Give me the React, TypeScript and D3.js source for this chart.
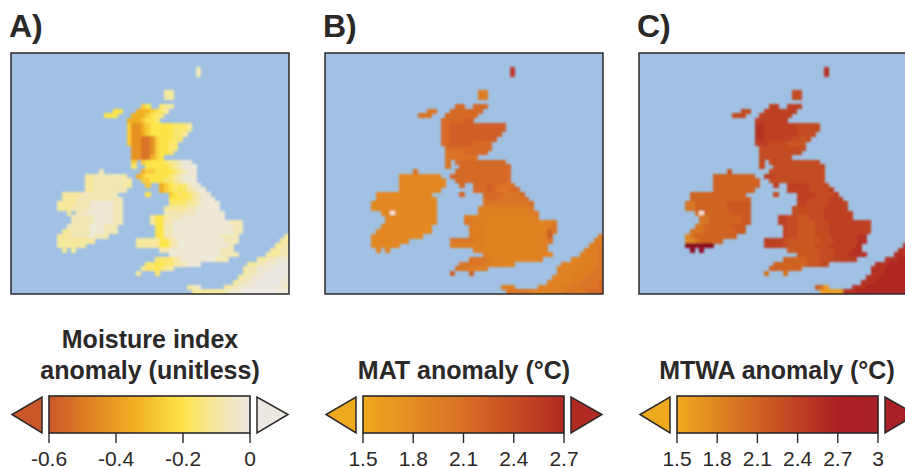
import React from "react";
import * as d3 from "d3";

// Land cells on a 60 x 52 grid: [row, start, end, start, end, ...]
const landRows: number[][] = [
  [3,40,40],[4,40,40],[8,33,34],[9,33,34],
  [11,28,29,32,34],[12,22,23,27,33],[13,20,22,26,32],[14,25,31],
  [15,25,38],[16,25,38],[17,25,37],[18,25,36],[19,25,35],[20,26,35],[21,26,34],[22,26,32],
  [23,26,26,28,38],[24,26,26,29,39],[25,19,19,28,39],[26,16,24,27,39],[27,16,25,28,39],
  [28,16,25,29,29,32,40],[29,16,24,32,41],[30,11,22,29,29,34,42],[31,11,23,34,43],
  [32,10,23,34,44],[33,10,23,33,44],[34,12,23,33,45],[35,13,23,30,45],[36,13,23,30,49],
  [37,12,22,31,49],[38,11,22,31,49],[39,10,20,31,48,59,59],[40,10,17,27,48,58,59],
  [41,10,15,27,47,57,59],[42,11,11,13,13,32,47,56,59],[43,34,48,55,59],[44,31,46,53,59],
  [45,29,40,51,59],[46,28,34,50,59],[47,27,27,31,31,50,59],[48,49,59],[49,48,59],
  [50,38,40,46,59],[51,39,43,44,59],
];

// Per row, one level string per span; the last digit of a string carries on to the span's end. w = lake
const moistureCells: string[] = [
  "2","2","3","3",
  "65 43","55 7776543","555 7776544","7776554",
  "68876555554443","68876555554443","6887655555443","688998655544","68899865544","8899865544","889986554","8899765",
  "6 65555433211","4 55555432111","2 766555543211","332222223 7655555432111","3322222223 665554432111",
  "3322222233 6 765444211","332222222 7654543211","333322222222 5 654543211","3332222222222 5554432111",
  "33332221111122 44443321111","33322221111122 333332211111","3w2211111122 2222222111111","22222111122 3553222111111111","22222111122 35522111111111111222",
  "22222111222 5522111111111111122","332222111222 5522111111111111122","33322221222 5522111111111122 3","33333333 3333355321111111111222 33",
  "333333 333335532111111111112 332","3 3 2211111111111222 3322","111111111112222 33322","4444321111111222 3322111",
  "445544322111 332211100","3445433 3221111000","3 4 3221100000","32211000001","322110000011",
  "321 33211100000112","33333 3321110000000111",
];
const matCells: string[] = [
  "9","9","4","4",
  "6 6","5 6","5 6","6666677",
  "66777777777777","667777777777778","6677777777777","667777777777","66777776666","6666666666","555566666","5555555",
  "5 66666666666","5 66666666666","5 666666666666","2 6666666666666","2 666666666666",
  "2 6 666766555","2 6667655566","2 6 666655556","2 5665555556",
  "2 55555555556","2 444444444445","22w2 4444444444445","2 4444433333333334","2 55444333333333333334",
  "2 4443333333333333345","2 4443333333333333375","2 444333333333333337 4","2 5555544333333333333345 44",
  "2 444444433333333333334 445","3 3 3333333333333334 4445","3333333333333335 33445","5555433333333334 3334445",
  "555554444333 333344445","5554444 3333444455","7 7 3333444555","33334445555","333344455556",
  "434 33334445555556","55555 3333444455555666",
];
const mtwaCells: string[] = [
  "7","7","5","5",
  "6 6","5 6","5 6","66666",
  "77666666655555","77666666655555","7766666665555","776666665545","66655554444","5","5","5",
  "5 55555555555","5 55555555555","4 555555555555","3 6655555555555","3 555555555555",
  "3 6 666665555","3 6666655556","3 5 666655556","3 6665555666",
  "2233333334 66555556666","2233333334 555555566666","2w333333444 5555555666666","22333333344 6655444555666666","22333333344 66554444555666666666",
  "2233333344 6554444555666666666","22233333334 6554444555666666666","1233333333 655444455566666677 7","11233333 666654444444555666667 77",
  "999999 666654444445556666667 777","9 9 4444444555666677 7777","444445556667777 77788","3333344455566666 7778888",
  "333333344455 777888888","3333333 7778888888","2 2 7778888888","77788888888","777888888888",
  "320 77788888888888","00000 77788888888888888",
];

const moistureValues = [0, -0.02, -0.07, -0.11, -0.16, -0.2, -0.27, -0.35, -0.43, -0.52];
const matValues = [1.7, 1.8, 1.85, 1.9, 1.95, 2.05, 2.15, 2.25, 2.35, 2.55];
const mtwaValues = [1.6, 1.8, 1.95, 2.1, 2.2, 2.3, 2.4, 2.55, 2.65, 3.2];

const moistureStops = [-0.6, -0.5, -0.35, -0.2, -0.1, 0];
const moistureColors = ["#c9582a", "#dd7a26", "#f0ae22", "#fde44a", "#f5e8a5", "#ece8e2"];
const matStops = [1.5, 2.1, 2.7];
const matColors = ["#efa91f", "#d86f26", "#b22a24"];
const mtwaStops = [1.5, 2.1, 2.7, 3, 3.2];
const mtwaColors = ["#efa91f", "#cf6324", "#ac1f24", "#a81f26", "#8e0a20"];

const moistureTicks = [-0.6, -0.4, -0.2, 0];
const moistureLabels = ["-0.6", "-0.4", "-0.2", "0"];
const matTicks = [1.5, 1.8, 2.1, 2.4, 2.7];
const matLabels = ["1.5", "1.8", "2.1", "2.4", "2.7"];
const mtwaTicks = [1.5, 1.8, 2.1, 2.4, 2.7, 3];
const mtwaLabels = ["1.5", "1.8", "2.1", "2.4", "2.7", "3"];

const SEA = "#a0c1e4";
const INK = "#2b2828";
const FONT = "'Liberation Sans', Arial, sans-serif";
const MAP_W = 278;
const MAP_H = 241;
const COLS = 60;
const ROWS = 52;

type PanelDef = {
  id: string; letter: string; x: number; cells: string[]; values: number[];
  stops: number[]; colors: string[]; domain: [number, number]; ticks: number[]; labels: string[];
  title: string[]; titleX: number; lake: string; lowColor: string; highColor: string;
};

const panels: PanelDef[] = [
  { id: "a", letter: "A)", x: 11, cells: moistureCells, values: moistureValues, stops: moistureStops, colors: moistureColors,
    domain: [-0.6, 0], ticks: moistureTicks, labels: moistureLabels, title: ["Moisture index", "anomaly (unitless)"], titleX: 150,
    lake: "#a8bfd0", lowColor: "#c9582a", highColor: "#ece8e2" },
  { id: "b", letter: "B)", x: 325, cells: matCells, values: matValues, stops: matStops, colors: matColors,
    domain: [1.5, 2.7], ticks: matTicks, labels: matLabels, title: ["MAT anomaly (°C)"], titleX: 464,
    lake: "#f4e8d8", lowColor: "#efa91f", highColor: "#b22a24" },
  { id: "c", letter: "C)", x: 639, cells: mtwaCells, values: mtwaValues, stops: mtwaStops, colors: mtwaColors,
    domain: [1.5, 3], ticks: mtwaTicks, labels: mtwaLabels, title: ["MTWA anomaly (°C)"], titleX: 777,
    lake: "#f4e8d8", lowColor: "#efa91f", highColor: "#a81f26" },
];

function Panel({ p }: { p: PanelDef }) {
  const color = d3.scaleLinear<string>().domain(p.stops).range(p.colors).clamp(true);
  const xCol = d3.scaleBand<number>().domain(d3.range(COLS)).range([p.x, p.x + MAP_W]);
  const yRow = d3.scaleBand<number>().domain(d3.range(ROWS)).range([53, 53 + MAP_H]);
  const cells: { r: number; c: number; fill: string }[] = [];
  landRows.forEach((spec, i) => {
    const r = spec[0];
    const parts = p.cells[i].split(" ");
    parts.forEach((lv, k) => {
      const s = spec[1 + 2 * k];
      const e = spec[2 + 2 * k];
      for (let c = s; c <= e; c++) {
        const ch = lv[Math.min(c - s, lv.length - 1)];
        cells.push({ r, c, fill: ch === "w" ? p.lake : color(p.values[+ch]) });
      }
    });
  });
  const barLeft = p.x + 38;
  const barRight = barLeft + 201;
  const barTop = 396;
  const barBottom = 433;
  const barMid = (barTop + barBottom) / 2;
  const xBar = d3.scaleLinear().domain(p.domain).range([barLeft, barRight]);
  const gradId = "grad-" + p.id;
  const gradStops = d3.range(0, 1.0001, 0.05);
  return (
    <g>
      <defs>
        <clipPath id={"clip-" + p.id}><rect x={p.x} y={53} width={MAP_W} height={MAP_H} /></clipPath>
        <linearGradient id={gradId} x1="0" x2="1" y1="0" y2="0">
          {gradStops.map((t) => (
            <stop key={t} offset={t} stopColor={color(p.domain[0] + t * (p.domain[1] - p.domain[0]))} />
          ))}
        </linearGradient>
      </defs>
      <text x={p.x - 2} y={37} fontFamily={FONT} fontWeight="bold" fontSize={32} fill={INK}>{p.letter}</text>
      <rect x={p.x} y={53} width={MAP_W} height={MAP_H} fill={SEA} />
      <g clipPath={`url(#clip-${p.id})`}>
        <g filter="url(#soft)">
          {cells.map((d) => (
            <rect key={d.r + "-" + d.c} x={xCol(d.c)} y={yRow(d.r)} width={xCol.bandwidth() + 0.5} height={yRow.bandwidth() + 0.5} fill={d.fill} shapeRendering="crispEdges" />
          ))}
        </g>
      </g>
      <rect x={p.x} y={53} width={MAP_W} height={MAP_H} fill="none" stroke={INK} strokeWidth={1.5} />
      {p.title.map((t, i) => (
        <text key={t} x={p.titleX} y={379 - (p.title.length - 1 - i) * 31} textAnchor="middle" fontFamily={FONT} fontWeight="bold" fontSize={25} fill={INK}>{t}</text>
      ))}
      <rect x={barLeft} y={barTop} width={barRight - barLeft} height={barBottom - barTop} fill={`url(#${gradId})`} stroke={INK} strokeWidth={1.6} />
      <path d={`M${barLeft - 7},${barTop + 1}L${barLeft - 7},${barBottom}L${barLeft - 37},${barMid}Z`} fill={p.lowColor} stroke={INK} strokeWidth={1.5} strokeLinejoin="miter" />
      <path d={`M${barRight + 7},${barTop + 1}L${barRight + 7},${barBottom}L${barRight + 38},${barMid}Z`} fill={p.highColor} stroke={INK} strokeWidth={1.5} strokeLinejoin="miter" />
      {p.ticks.map((t, i) => (
        <g key={t}>
          <line x1={xBar(t)} x2={xBar(t)} y1={barBottom} y2={443} stroke={INK} strokeWidth={1.4} />
          <text x={xBar(t)} y={465.5} textAnchor="middle" fontFamily={FONT} fontSize={21} fill={INK}>{p.labels[i]}</text>
        </g>
      ))}
    </g>
  );
}

export default function App() {
  return (
    <svg width={905} height={467} viewBox="0 0 905 467" style={{ position: "absolute", left: 0, top: 0, background: "#fff" }}>
      <defs>
        <filter id="soft" x="-5%" y="-5%" width="110%" height="110%">
          <feGaussianBlur stdDeviation={0.8} />
        </filter>
      </defs>
      {panels.map((p) => <Panel key={p.id} p={p} />)}
    </svg>
  );
}
